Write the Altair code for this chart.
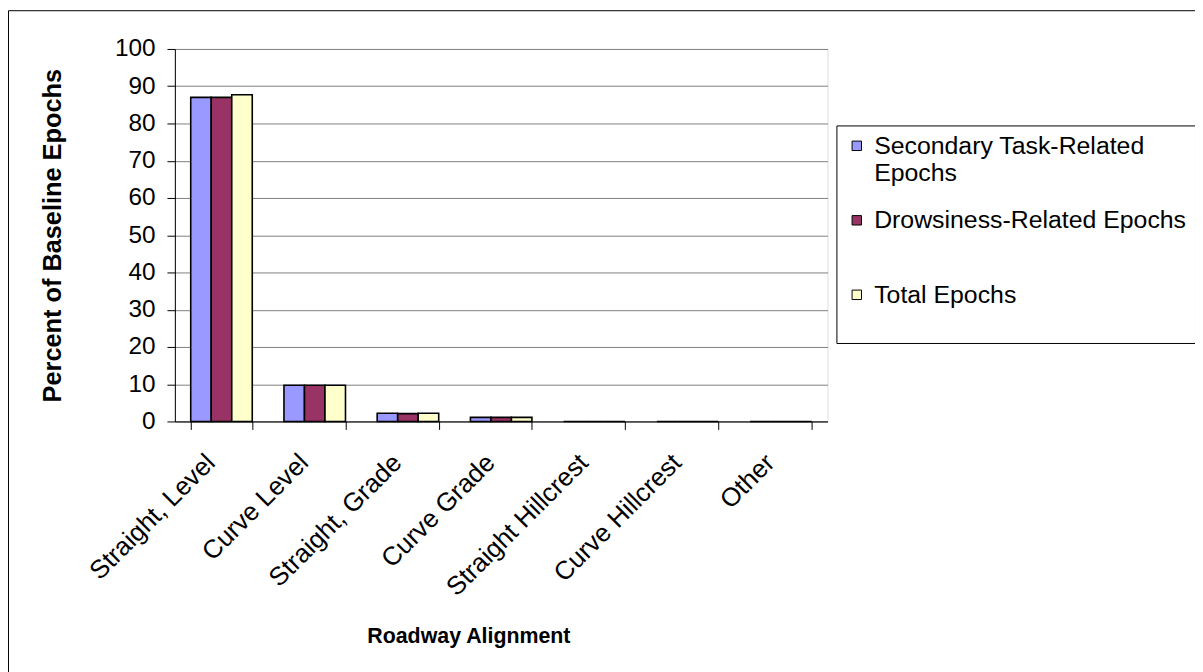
import altair as alt
import pandas as pd

categories = ["Straight, Level", "Curve Level", "Straight, Grade", "Curve Grade",
              "Straight Hillcrest", "Curve Hillcrest", "Other"]
series = ["Secondary Task-Related Epochs", "Drowsiness-Related Epochs", "Total Epochs"]
secondary = [87.0, 9.7, 2.2, 1.1, 0.0, 0.0, 0.0]
drowsiness = [87.0, 9.7, 2.1, 1.1, 0.0, 0.0, 0.0]
total = [87.7, 9.7, 2.2, 1.1, 0.0, 0.0, 0.0]
colors = ["#9999FF", "#993366", "#FFFFCC"]
y_ticks = list(range(0, 101, 10))

rows = []
for s, vals in zip(series, [secondary, drowsiness, total]):
    for c, v in zip(categories, vals):
        rows.append({"cat": c, "series": s, "value": v})
df = pd.DataFrame(rows)

FONT = "Liberation Sans"

bars = alt.Chart(df).mark_bar(stroke="black", strokeWidth=1.6).encode(
    x=alt.X("cat:N", sort=categories,
            scale=alt.Scale(paddingInner=0.34, paddingOuter=0.17),
            axis=alt.Axis(title="Roadway Alignment", labelAngle=315, labelAlign="right",
                          labelBaseline="middle", labelPadding=29, labelOffset=-11,
                          labelFontSize=26, labelFont=FONT, labelColor="black",
                          tickBand="extent", tickSize=8, tickColor="black",
                          domainColor="black",
                          titleFont=FONT, titleFontSize=21.5, titleFontWeight="bold",
                          titleColor="black", titleX=295.5, titleY=223,
                          titleAlign="center", titleBaseline="alphabetic",
                          labelLimit=400)),
    xOffset=alt.XOffset("series:N", sort=series,
                        scale=alt.Scale(paddingInner=0, paddingOuter=0)),
    y=alt.Y("value:Q", scale=alt.Scale(domain=[0, 100], nice=False),
            axis=alt.Axis(title="Percent of Baseline Epochs", values=y_ticks,
                          labelFontSize=24.5, labelFont=FONT, labelColor="black",
                          labelPadding=12, tickSize=8, tickColor="black",
                          domainColor="black", gridColor="#808080",
                          titleFont=FONT, titleFontSize=25.5, titleFontWeight="bold",
                          titleColor="black", titleAngle=270, titleX=-115,
                          titleY=187.5, titleAlign="center",
                          titleBaseline="alphabetic")),
    fill=alt.Fill("series:N", sort=series,
                  scale=alt.Scale(domain=series, range=colors),
                  legend=alt.Legend(title=None, orient="none", legendX=666, legendY=77,
                                    strokeColor="black", fillColor="white", padding=8,
                                    labelFontSize=25, labelFont=FONT, labelColor="black",
                                    symbolType="square", symbolSize=90,
                                    symbolStrokeColor="black", symbolStrokeWidth=1,
                                    labelOffset=5, rowPadding=22, labelLimit=500,
                                    labelExpr="datum.label == 'Secondary Task-Related Epochs' ? ['Secondary Task-Related', 'Epochs'] : [datum.label, '']")),
)

border = alt.Chart(pd.DataFrame({"b": [0]})).mark_rect(
    fill="transparent", stroke="black", strokeWidth=1
).encode(x=alt.value(-167.5), x2=alt.value(1200), y=alt.value(-38.5), y2=alt.value(700))

chart = alt.layer(border, bars).properties(
    width=657, height=375,
    autosize=alt.AutoSizeParams(type="none"),
    padding={"left": 168, "top": 39, "right": 370, "bottom": 250},
).configure_view(stroke="#808080", strokeWidth=1).configure(background="white")

chart.save("out.html", embed_options={"renderer": "svg", "actions": False})
